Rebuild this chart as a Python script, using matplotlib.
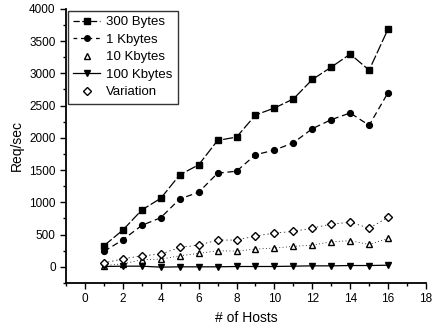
import matplotlib
matplotlib.use('Agg')
import matplotlib.pyplot as plt
from matplotlib.lines import Line2D
from matplotlib.ticker import MultipleLocator

plt.rcParams['font.family'] = ['Liberation Sans', 'DejaVu Sans']

# data
hosts = list(range(1, 17))
bytes_300 = [327, 571, 882, 1063, 1426, 1582, 1960, 2012, 2354, 2463, 2603, 2905, 3097, 3299, 3050, 3688]
kbytes_1 = [238, 420, 643, 762, 1053, 1156, 1452, 1483, 1738, 1810, 1924, 2142, 2282, 2386, 2194, 2702]
kbytes_10 = [20, 45, 110, 119, 171, 208, 249, 244, 275, 291, 317, 337, 389, 405, 347, 440]
kbytes_100 = [5, 10, 10, -5, 0, 0, 0, 5, 5, 5, 10, 15, 15, 20, 20, 25]
variation = [60, 124, 171, 197, 300, 337, 415, 415, 477, 524, 549, 601, 664, 690, 601, 768]
labels = ['300 Bytes', '1 Kbytes', '10 Kbytes', '100 Kbytes', 'Variation']

fig = plt.figure(figsize=(4.32, 3.29), dpi=100)
ax = fig.add_axes([0.153, 0.14, 0.833, 0.833])

ax.plot(hosts, bytes_300, color='black', lw=0.9, ls=(0, (8, 2)), marker='s', ms=4.2)
ax.plot(hosts, kbytes_1, color='black', lw=0.9, ls=(0, (5, 3)), marker='o', ms=4.2)
ax.plot(hosts, kbytes_10, color='black', lw=0.6, ls=(0, (1, 3)), marker='^', ms=4.2, mfc='white')
ax.plot(hosts, kbytes_100, color='black', lw=0.9, ls='-', marker='v', ms=4.2)
ax.plot(hosts, variation, color='black', lw=0.5, ls=(0, (2, 4)), marker='D', ms=3.8, mfc='white')

# legend handles, as in the original (no line for the open markers)
handles = [
    Line2D([], [], color='black', lw=0.9, ls=(0, (5, 2)), marker='s', ms=4),
    Line2D([], [], color='black', lw=0.9, ls=(0, (3, 3)), marker='o', ms=4),
    Line2D([], [], color='black', ls='none', marker='^', ms=4, mfc='white'),
    Line2D([], [], color='black', lw=0.9, ls='-', marker='v', ms=4),
    Line2D([], [], color='black', ls='none', marker='D', ms=3.6, mfc='white'),
]

ax.set_xlim(-1, 18)
ax.set_ylim(-250, 4000)
ax.xaxis.set_major_locator(MultipleLocator(2))
ax.xaxis.set_minor_locator(MultipleLocator(1))
ax.yaxis.set_major_locator(MultipleLocator(500))
ax.yaxis.set_minor_locator(MultipleLocator(250))
ax.tick_params(which='both', direction='out', labelsize=8.5, width=1)
ax.tick_params(which='major', length=4)
ax.tick_params(which='minor', length=2)
ax.spines['top'].set_visible(False)
ax.spines['right'].set_visible(False)
ax.spines['left'].set_linewidth(1.3)
ax.spines['bottom'].set_linewidth(1.3)

ax.set_xlabel('# of Hosts', fontsize=10)
ax.set_ylabel('Req/sec', fontsize=10)

leg = ax.legend(handles, labels, loc='upper left', fontsize=9.5, frameon=True, fancybox=False,
                edgecolor='black', handlelength=2.0, borderaxespad=0.15,
                labelspacing=0.4, handletextpad=0.5, borderpad=0.4)
leg.get_frame().set_linewidth(1.0)

fig.savefig('out.png', dpi=100)
